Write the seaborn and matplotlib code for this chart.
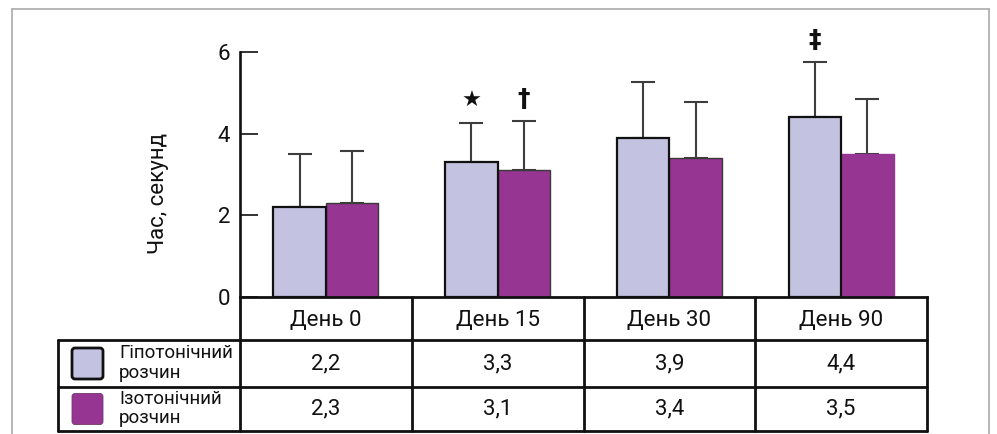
import numpy as np
import pandas as pd
import matplotlib
matplotlib.use("Agg")
import matplotlib.pyplot as plt
import seaborn as sns
from matplotlib.lines import Line2D
from matplotlib.patches import FancyBboxPatch
from matplotlib.transforms import Affine2D

# ---- data -------------------------------------------------------------
days = ["День 0", "День 15", "День 30", "День 90"]
solutions = ["Гіпотонічний розчин", "Ізотонічний розчин"]
hypotonic = [2.2, 3.3, 3.9, 4.4]
isotonic = [2.3, 3.1, 3.4, 3.5]
hypotonic_sd = [1.30, 0.96, 1.37, 1.36]
isotonic_sd = [1.28, 1.21, 1.38, 1.35]
hypotonic_marks = ["", "★", "", "‡"]
isotonic_marks = ["", "†", "", ""]
yticks = [0, 2, 4, 6]
ylabel = "Час, секунд"

# ---- style ------------------------------------------------------------
LAV = "#c3c3e1"
PUR = "#963592"
W, H = 997, 434

sns.set_theme(style="white")
plt.rcParams["font.family"] = ["Roboto", "DejaVu Sans"]

fig = plt.figure(figsize=(W / 100, H / 100), dpi=100, facecolor="white")
# pixel coordinates measured from the top-left corner of the figure
pix = Affine2D().scale(1 / W, -1 / H).translate(0, 1) + fig.transFigure

ax_left, ax_right, ax_top, ax_bottom = 240, 927, 52, 297
ax = fig.add_axes([ax_left / W, 1 - ax_bottom / H,
                   (ax_right - ax_left) / W, (ax_bottom - ax_top) / H])

df = pd.DataFrame({
    "День": days * 2,
    "Розчин": [solutions[0]] * len(days) + [solutions[1]] * len(days),
    "Час": hypotonic + isotonic,
})

sns.barplot(data=df, x="День", y="Час", hue="Розчин", order=days,
            hue_order=solutions, palette=[LAV, PUR], width=0.61, gap=0,
            saturation=1, errorbar=None, legend=False, ax=ax,
            edgecolor="#111111", linewidth=1.6)

hyp_bars, iso_bars = ax.containers[0], ax.containers[1]
for b in hyp_bars:
    b.set_zorder(3)
for i, b in enumerate(iso_bars):
    b.set_zorder(2)
    b.set_linewidth(1.0)
    b.set_edgecolor("#3a3a3a" if i < 3 else PUR)

# upward-only SD whiskers and significance marks
for bars, sd, marks in [(hyp_bars, hypotonic_sd, hypotonic_marks),
                        (iso_bars, isotonic_sd, isotonic_marks)]:
    xs = [b.get_x() + b.get_width() / 2 for b in bars]
    ys = [b.get_height() for b in bars]
    ax.errorbar(xs, ys, yerr=[np.zeros(len(sd)), sd], fmt="none",
                ecolor="#3d3d3d", elinewidth=1.5, capsize=8.3,
                capthick=1.5, zorder=1)
    for x, y, s, m in zip(xs, ys, sd, marks):
        if not m:
            continue
        if m == "★":
            kw = dict(fontsize=16, family="DejaVu Sans")
        else:
            kw = dict(fontsize=18, family="DejaVu Sans", fontweight="bold")
        ax.annotate(m, (x, y + s), xytext=(0, 16), textcoords="offset points",
                    ha="center", va="center", color="#111111",
                    annotation_clip=False, **kw)

# ---- axes -------------------------------------------------------------
ax.set_xlim(-0.5, len(days) - 0.5)
ax.set_ylim(yticks[0], yticks[-1])
ax.set_yticks(yticks)
ax.set_yticklabels([str(t) for t in yticks])
ax.tick_params(axis="y", direction="in", length=13, width=1.4,
               color="#333333", pad=7, labelsize=16, labelcolor="#111111",
               left=True)
ax.tick_params(axis="x", length=0, pad=9, labelsize=16, labelcolor="#111111")
ax.set_xlabel("")
ax.set_ylabel(ylabel, fontsize=16, color="#111111")
ax.yaxis.set_label_coords(-0.118, 0.424)
ax.yaxis.label.set_va("center")

for side in ("top", "right"):
    ax.spines[side].set_visible(False)
ax.spines["left"].set_color("#111111")
ax.spines["left"].set_linewidth(1.9)
ax.spines["left"].set_bounds(yticks[0], yticks[-1])
ax.spines["bottom"].set_color("#111111")
ax.spines["bottom"].set_linewidth(2.0)
ax.patch.set_alpha(0)

# ---- data table below the chart ---------------------------------------
fig.canvas.draw()
col_edges = [ax.transData.transform((i - 0.5, 0))[0] for i in range(len(days) + 1)]
legend_left = 58
row_edges = [297, 340, 387, 431]
line_kw = dict(color="#111111", linewidth=2.0, transform=pix, clip_on=False)

for y in row_edges[1:]:
    fig.add_artist(Line2D([legend_left, col_edges[-1]], [y, y], **line_kw))
for x in col_edges:
    fig.add_artist(Line2D([x, x], [row_edges[0], row_edges[-1]], **line_kw))
fig.add_artist(Line2D([legend_left, legend_left], [row_edges[1], row_edges[-1]], **line_kw))

series = [hypotonic, isotonic]
colors = [LAV, PUR]
for r, (vals, name, col) in enumerate(zip(series, solutions, colors)):
    y0, y1 = row_edges[r + 1], row_edges[r + 2]
    yc = (y0 + y1) / 2
    for i, v in enumerate(vals):
        xc = (col_edges[i] + col_edges[i + 1]) / 2
        fig.text(xc, yc, f"{v:.1f}".replace(".", ","), transform=pix,
                 ha="center", va="center", fontsize=16, color="#111111")
    first, second = name.split(" ")
    fig.text(119, yc - 10, first, transform=pix, ha="left", va="center",
             fontsize=13.5, color="#111111")
    fig.text(119, yc + 9, second, transform=pix, ha="left", va="center",
             fontsize=13.5, color="#111111")
    sw = FancyBboxPatch((72, yc - 15.5), 31, 31,
                        boxstyle="round,pad=0,rounding_size=3",
                        facecolor=col,
                        edgecolor="#111111" if r == 0 else "#6e3a6c",
                        linewidth=2.0 if r == 0 else 0.6,
                        transform=pix, clip_on=False)
    fig.add_artist(sw)

# thin grey frame around the figure
frame_kw = dict(color="#aaaaaa", linewidth=1.2, transform=pix, clip_on=False)
fig.add_artist(Line2D([12, 12], [9, H], **frame_kw))
fig.add_artist(Line2D([12, 989], [9, 9], **frame_kw))
fig.add_artist(Line2D([989, 989], [9, H], **frame_kw))

fig.savefig("out.png", dpi=100, facecolor="white")
